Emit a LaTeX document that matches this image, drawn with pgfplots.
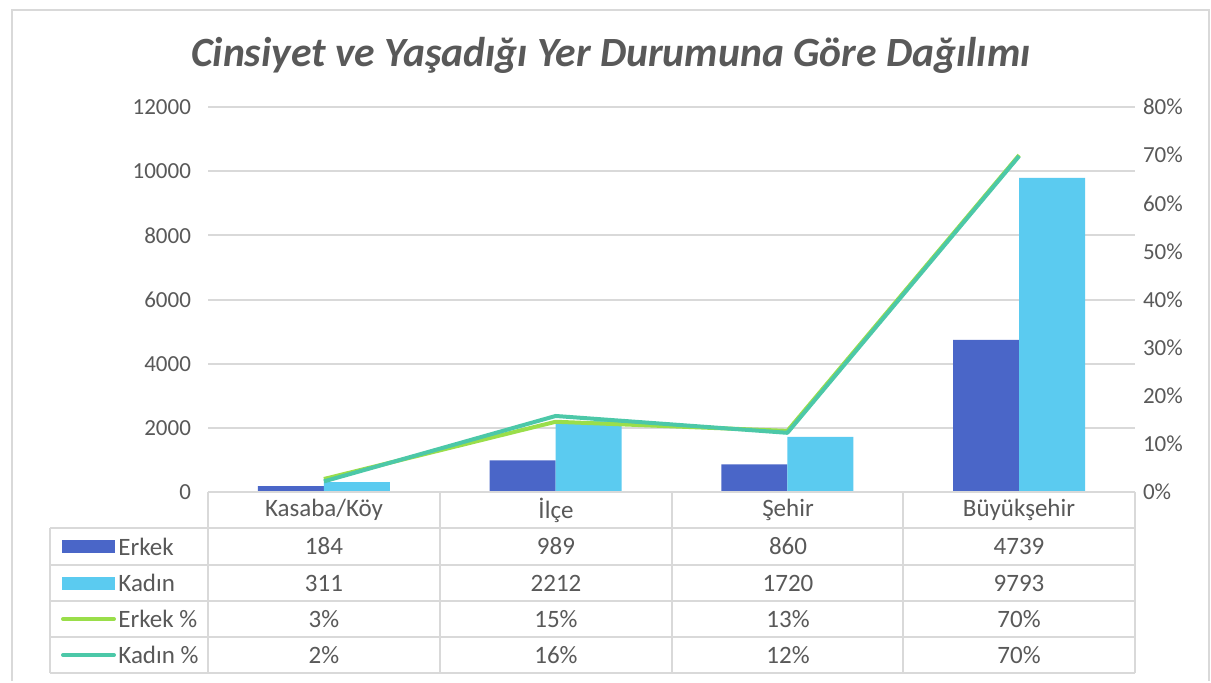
\documentclass[border=0pt]{standalone}
\usepackage{pgfplots}
\pgfplotsset{compat=1.18}
\usepackage{pgfplotstable}
\usepackage{fontspec}
\setmainfont{Carlito}
\definecolor{erkek}{HTML}{4A66C8}
\definecolor{kadin}{HTML}{5BCBF0}
\definecolor{erkekp}{HTML}{9ADE4A}
\definecolor{kadinp}{HTML}{4CC8A8}
\definecolor{txt}{HTML}{595959}
\definecolor{gridc}{HTML}{D9D9D9}

\pgfplotstableread{
x erkek kadin erkekp kadinp
0 184 311 0.027 0.022
1 989 2212 0.146 0.158
2 860 1720 0.127 0.123
3 4739 9793 0.700 0.698
}\data

\begin{document}
\begin{tikzpicture}
\begin{scope}[x=0.5pt,y=-0.5pt]
\fill[white] (0,0) rectangle (1211,681);
\draw[gridc, line width=1pt] (12,681) -- (12,10) -- (1209,10) -- (1209,681);
\node[font=\fontsize{20.8}{23}\selectfont\bfseries\itshape, text=txt] at (611,55) {Cinsiyet ve Yaşadığı Yer Durumuna Göre Dağılımı};
\end{scope}

\begin{axis}[at={(104pt,-246pt)}, anchor=south west, scale only axis,
 width=463.5pt, height=192.5pt,
 xmin=-0.5, xmax=3.5, ymin=0, ymax=12000, ytick={0,2000,4000,6000,8000,10000,12000}, xtick=\empty,
 scaled y ticks=false,
 axis line style={draw=none}, major tick length=0pt, ymajorgrids,
 grid style={gridc, line width=1pt},
 ybar=0pt, bar width=33pt,
 yticklabel style={font=\fontsize{11.5}{13}\selectfont, text=txt, xshift=-5pt},
 /pgf/number format/assume math mode=true, /pgf/number format/1000 sep={},
 clip=false]
\addplot[fill=erkek, draw=none] table[x=x,y=erkek]{\data};
\addplot[fill=kadin, draw=none] table[x=x,y=kadin]{\data};
\end{axis}

\begin{axis}[at={(104pt,-246pt)}, anchor=south west, scale only axis,
 width=463.5pt, height=192.5pt,
 xmin=-0.5, xmax=3.5, ymin=0, ymax=0.8,
 axis y line*=right, axis x line=none,
 axis line style={draw=none}, major tick length=0pt,
 ytick={0,0.1,0.2,0.3,0.4,0.5,0.6,0.7,0.8},
 yticklabels={0\%,10\%,20\%,30\%,40\%,50\%,60\%,70\%,80\%},
 yticklabel style={font=\fontsize{11.5}{13}\selectfont, text=txt, xshift=0.5pt},
 clip=false]
\addplot[erkekp, line width=2pt, line join=round] table[x=x,y=erkekp]{\data};
\addplot[kadinp, line width=2pt, line join=round] table[x=x,y=kadinp]{\data};
\end{axis}

\begin{scope}[x=0.5pt,y=-0.5pt]
\begin{scope}[gridc, line width=1pt]
\foreach \x in {208,439.75,671.5,903.25,1135} \draw (\x,492) -- (\x,673);
\draw (50,528) -- (50,673);
\draw (208,492) -- (1135,492);
\foreach \y in {528,565,601,637,673} \draw (50,\y) -- (1135,\y);
\end{scope}
\begin{scope}[every node/.style={font=\fontsize{12.5}{14}\selectfont, text=txt}]
\node at (324,510) {Kasaba/Köy};
\node at (556,510) {İlçe};
\node at (788,510) {Şehir};
\node at (1019,510) {Büyükşehir};
% rows
\node at (324,546.5) {184};  \node at (556,546.5) {989};  \node at (788,546.5) {860};  \node at (1019,546.5) {4739};
\node at (324,583) {311};    \node at (556,583) {2212}; \node at (788,583) {1720}; \node at (1019,583) {9793};
\node at (324,619) {3\%};    \node at (556,619) {15\%}; \node at (788,619) {13\%}; \node at (1019,619) {70\%};
\node at (324,655) {2\%};    \node at (556,655) {16\%}; \node at (788,655) {12\%}; \node at (1019,655) {70\%};
% legend column
\fill[erkek] (62,540) rectangle (115,553);
\fill[kadin] (62,577) rectangle (115,590);
\draw[erkekp, line width=2pt, line cap=round] (63,619) -- (114,619);
\draw[kadinp, line width=2pt, line cap=round] (63,655) -- (114,655);
\node[anchor=west, inner sep=1pt] at (116,546.5) {Erkek};
\node[anchor=west, inner sep=1pt] at (116,583) {Kadın};
\node[anchor=west, inner sep=1pt] at (116,619) {Erkek \%};
\node[anchor=west, inner sep=1pt] at (116,655) {Kadın \%};
\end{scope}
\end{scope}
\end{tikzpicture}
\end{document}
